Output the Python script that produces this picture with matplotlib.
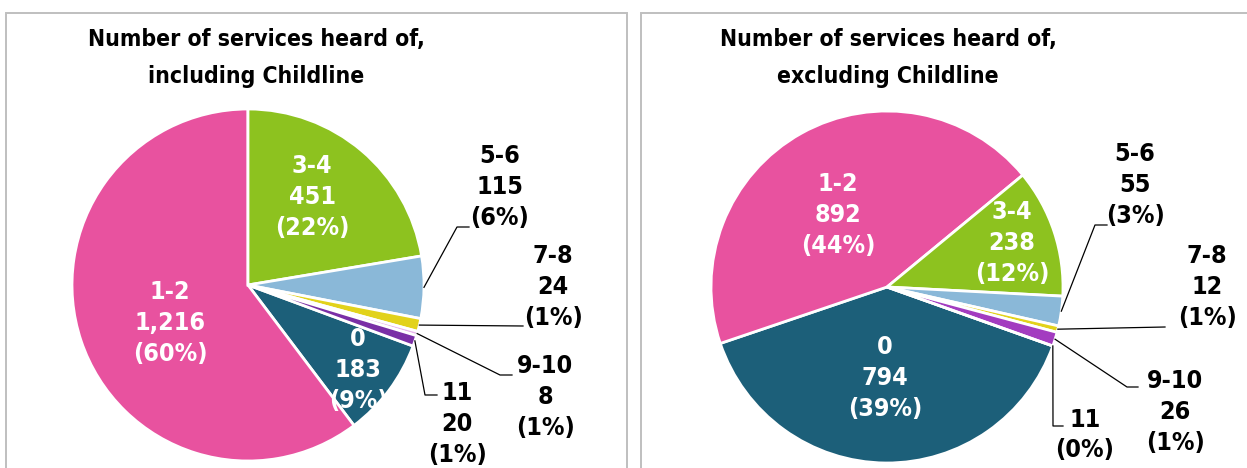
"""
Number of services heard of - two pies (including / excluding Childline)
"""
import numpy as np
import matplotlib.pyplot as plt
from matplotlib.patches import Rectangle

plt.rcParams['font.family'] = ['DejaVu Sans']
plt.rcParams['font.stretch'] = 'condensed'

# Data (order as in the source sheet)
categories = ['0', '1-2', '3-4', '5-6', '7-8', '9-10', '11']
incl_counts = [183, 1216, 451, 115, 24, 8, 20]
incl_pct = ['9%', '60%', '22%', '6%', '1%', '1%', '1%']
excl_counts = [794, 892, 238, 55, 12, 26, 0]
excl_pct = ['39%', '44%', '12%', '3%', '1%', '1%', '0%']

incl_colors = ['#1C5F79', '#E8529F', '#8DC21F', '#8AB8D8', '#E2D21B', '#E7B4EC', '#7A2FA6']
excl_colors = ['#1C5F79', '#E8529F', '#8DC21F', '#8AB8D8', '#E2D21B', '#A33CC0', '#7A2FA6']

W, H = 1247, 468
fig = plt.figure(figsize=(W / 100, H / 100), dpi=100)
ax = fig.add_axes([0, 0, 1, 1])


def Y(y):
    # image row -> plot y
    return H - y


def make_label(cat, n, pct):
    if n == 0:
        return f'{cat}\n({pct})'
    return f'{cat}\n{n:,}\n({pct})'


def draw_pie(counts, pcts, colors, center, first_angle, title, title_x,
             inside, outside, leaders):
    counts = np.array(counts, dtype=float)
    frac = counts / counts.sum()
    # 3-4 slice begins at first_angle, going clockwise
    start = first_angle + 360 * (frac[0] + frac[1])
    r = 176
    wedges, _ = ax.pie(counts, colors=colors, startangle=start, counterclock=False,
                       radius=r, center=(center[0], Y(center[1])),
                       wedgeprops=dict(edgecolor='white', linewidth=2))
    for i, cat in enumerate(categories):
        s = make_label(cat, int(counts[i]), pcts[i])
        if i in inside:
            x, y = inside[i]
            ax.text(x, Y(y), s, color='white', fontsize=18, fontweight='bold',
                    ha='center', va='center', linespacing=1.35)
        else:
            x, y = outside[i]
            ax.text(x, Y(y), s, color='black', fontsize=18, fontweight='bold',
                    ha='center', va='center', linespacing=1.35)
            w = wedges[i]
            mid = np.deg2rad((w.theta1 + w.theta2) / 2)
            px = [center[0] + r * np.cos(mid)]
            py = [Y(center[1]) + r * np.sin(mid)]
            for (lx, ly) in leaders[i]:
                px.append(lx)
                py.append(Y(ly))
            ax.plot(px, py, color='black', lw=0.9)
    ax.text(title_x, Y(58), title, fontsize=16.5, fontweight='bold', ha='center',
            va='center', linespacing=1.8)


draw_pie(incl_counts, incl_pct, incl_colors, (248, 285), 90,
         'Number of services heard of,\nincluding Childline', 256,
         inside={0: (358, 370), 1: (170, 323), 2: (312, 197)},
         outside={3: (500, 187), 4: (553, 287), 5: (545, 397), 6: (457, 424)},
         leaders={3: [(457, 227), (469, 227)], 4: [(523, 326)],
                  5: [(500, 375), (512, 375)], 6: [(425, 395), (437, 395)]})

draw_pie(excl_counts, excl_pct, excl_colors, (887, 287), 39.5,
         'Number of services heard of,\nexcluding Childline', 888,
         inside={0: (885, 378), 1: (838, 215), 2: (1012, 243)},
         outside={3: (1135, 185), 4: (1207, 287), 5: (1175, 412), 6: (1085, 435)},
         leaders={3: [(1095, 225), (1107, 225)], 4: [(1165, 327)],
                  5: [(1127, 387), (1138, 387)], 6: [(1053, 426), (1063, 426)]})

# panel frames
for x0 in (5.5, 640.5):
    ax.add_patch(Rectangle((x0, -20), 621, Y(13) + 20, fill=False,
                           edgecolor='#BFBFBF', lw=1.4))

ax.set_xlim(0, W)
ax.set_ylim(0, H)
ax.set_aspect('equal')
ax.axis('off')

plt.savefig('out.png', dpi=100)
